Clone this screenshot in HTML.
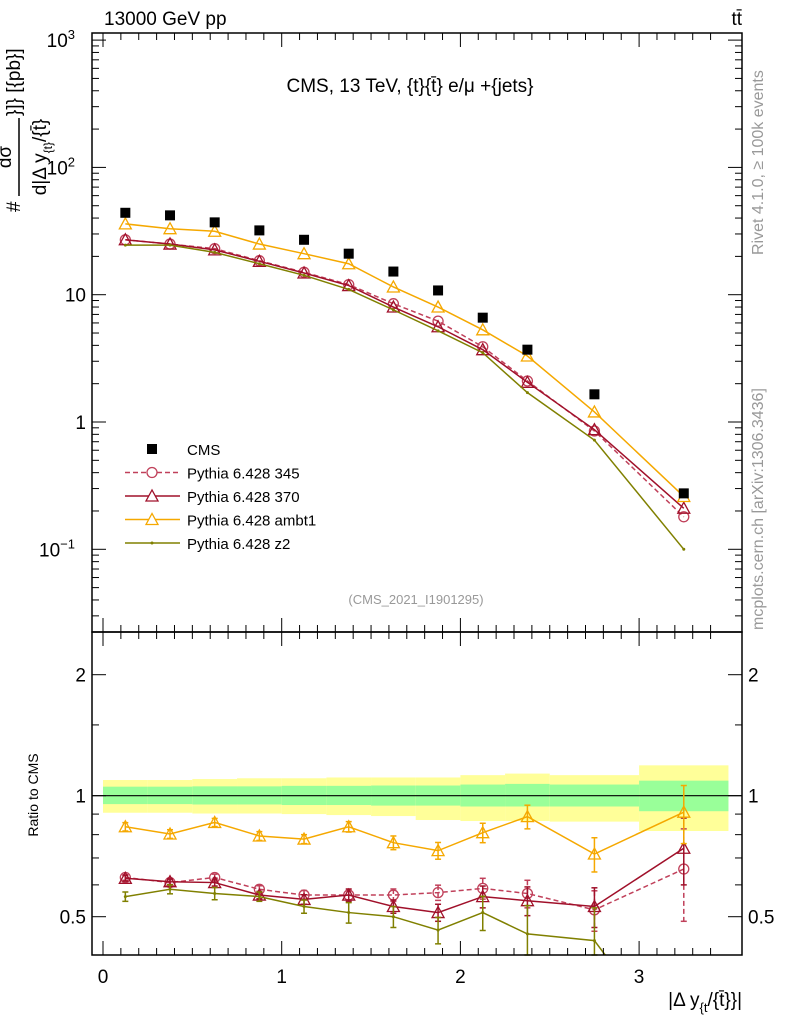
<!DOCTYPE html>
<html><head><meta charset="utf-8"><style>
html,body{margin:0;background:#fff;width:786px;height:1024px;overflow:hidden;}
svg{display:block;font-family:"Liberation Sans",sans-serif;}
</style></head><body>
<svg id="c" width="786" height="1024" xmlns="http://www.w3.org/2000/svg"></svg>
<script>
const xCenters=[0.125,0.375,0.625,0.875,1.125,1.375,1.625,1.875,2.125,2.375,2.75,3.25];
const binEdges=[0,0.25,0.5,0.75,1,1.25,1.5,1.75,2,2.25,2.5,3,3.5];
const cms=[44,42,37,32,27,21,15.2,10.8,6.6,3.7,1.65,0.275];
const p345=[27,25,23,18.5,15,12,8.5,6.2,3.9,2.1,0.85,0.18];
const p370=[27,25,22.5,18.3,14.8,11.8,8,5.6,3.7,2.05,0.87,0.21];
const pambt1=[36,33,31.5,25,21,17.5,11.5,8,5.3,3.3,1.2,0.26];
const pz2=[24.5,24.5,21.5,17.5,14.2,11,7.6,5.2,3.5,1.7,0.72,0.1];
const r345=[0.626,0.608,0.626,0.585,0.566,0.566,0.566,0.574,0.588,0.571,0.52,0.657];
const r370=[0.623,0.611,0.608,0.566,0.552,0.566,0.53,0.512,0.561,0.548,0.53,0.74];
const rambt1=[0.837,0.803,0.858,0.794,0.78,0.837,0.764,0.73,0.809,0.887,0.716,0.91];
const rz2=[0.561,0.585,0.571,0.561,0.53,0.512,0.5,0.463,0.512,0.453,0.436,0.22];
const errAmbt1=[0.02,0.02,0.02,0.02,0.02,0.025,0.03,0.035,0.045,0.06,0.07,0.15];
const err345=[0.01,0.01,0.012,0.012,0.015,0.015,0.02,0.025,0.035,0.045,0.06,0.17];
const err370=[0.01,0.01,0.012,0.012,0.015,0.02,0.02,0.025,0.035,0.045,0.06,0.14];
const errZ2=[0.015,0.015,0.02,0.015,0.02,0.03,0.03,0.035,0.05,0.08,0.09,0.1];
const yelUp=[1.094,1.094,1.10,1.105,1.105,1.11,1.11,1.11,1.125,1.135,1.125,1.19];
const yelDn=[0.907,0.907,0.903,0.903,0.90,0.895,0.89,0.87,0.865,0.865,0.862,0.817];
const grnUp=[1.053,1.053,1.055,1.055,1.058,1.058,1.06,1.06,1.066,1.07,1.066,1.09];
const grnDn=[0.953,0.953,0.951,0.951,0.948,0.948,0.945,0.945,0.94,0.94,0.94,0.915];

const S=document.getElementById('c');const NS='http://www.w3.org/2000/svg';
function el(t,a,p){const e=document.createElementNS(NS,t);for(const k in a)e.setAttribute(k,a[k]);(p||S).appendChild(e);return e;}
const L=92,R=742,T=33,MB=632,RB=955;
const X=v=>103+v*178.7;
const Y=v=>422-Math.log10(v)*127.3;
const YR=v=>795.7-Math.log2(v)*121;
const cp=el('clipPath',{id:'cm'});el('rect',{x:L,y:T,width:R-L,height:MB-T},cp);
const cr=el('clipPath',{id:'cr'});el('rect',{x:L,y:MB,width:R-L,height:RB-MB},cr);

const gb=el('g',{'clip-path':'url(#cr)'});

for(let i=0;i<xCenters.length;i++){
 const x0=X(binEdges[i]),x1=X(binEdges[i+1]);
 const y=el('rect',{x:x0,y:YR(yelUp[i]),width:x1-x0,height:YR(yelDn[i])-YR(yelUp[i]),fill:'#ffff99'},gb);
 
 const g=el('rect',{x:x0,y:YR(grnUp[i]),width:x1-x0,height:YR(grnDn[i])-YR(grnUp[i]),fill:'#99ff99'},gb);
 
}
el('line',{x1:L,x2:R,y1:YR(1),y2:YR(1),stroke:'#000','stroke-width':1.2});

function series(vals,fy,y0,y1b,color,dash,marker,name,errs){
 const g=el('g',{});
 
 const P=xCenters.map((x,i)=>[X(x),fy(vals[i])]);
 // clip polyline to [y0,y1b]
 const out=[];
 for(let i=0;i<P.length;i++){
  const [x,y]=P[i];const inside=y>=y0&&y<=y1b;
  if(i>0){const [px,py]=P[i-1];const pin=py>=y0&&py<=y1b;
   if(pin!==inside){const by=inside?(py<y0?y0:y1b):(y<y0?y0:y1b);const t=(by-py)/(y-py);out.push([px+t*(x-px),by]);}}
  if(inside)out.push([x,y]);
 }
 const pl=el('polyline',{points:out.map(p=>p.join(',')).join(' '),fill:'none',stroke:color,'stroke-width':1.5,'stroke-dasharray':dash||'none'},g);
 
 const cl=v=>Math.min(y1b,Math.max(y0,v));
 P.forEach(([cx,cy],i)=>{
  let m;
  if(cy<y0||cy>y1b)return;
  if(errs){const ya=cl(fy(vals[i]+errs[i])),yb=cl(fy(Math.max(vals[i]-errs[i],0.01)));
   el('line',{x1:cx,x2:cx,y1:ya,y2:yb,stroke:color,'stroke-width':1.5,'stroke-dasharray':dash||'none'},g);
   el('line',{x1:cx-3,x2:cx+3,y1:ya,y2:ya,stroke:color,'stroke-width':1.5},g);
   el('line',{x1:cx-3,x2:cx+3,y1:yb,y2:yb,stroke:color,'stroke-width':1.5},g);}
  if(marker==='sq')m=el('rect',{x:cx-5,y:cy-5,width:10,height:10,fill:'#000'},g);
  else if(marker==='circ')m=el('circle',{cx,cy,r:5,fill:'none',stroke:color,'stroke-width':1.3},g);
  else if(marker==='tri')m=el('polygon',{points:`${cx},${cy-6} ${cx-6},${cy+5} ${cx+6},${cy+5}`,fill:'none',stroke:color,'stroke-width':1.3},g);
  else m=el('circle',{cx,cy,r:1.5,fill:color},g);
  
 });
}
const C345='#c0405a',C370='#a0102a',CA='#f5a800',CZ='#808000';
series(p345,Y,T,MB,C345,'5,3','circ','pythia-345');
series(p370,Y,T,MB,C370,null,'tri','pythia-370');
series(pambt1,Y,T,MB,CA,null,'tri','pythia-ambt1');
series(pz2,Y,T,MB,CZ,null,'dot','pythia-z2');
series(cms,Y,T,MB,'#000','0,1000','sq','cms-data');
series(r345,YR,MB,RB,C345,'5,3','circ','ratio-345',err345);
series(r370,YR,MB,RB,C370,null,'tri','ratio-370',err370);
series(rambt1,YR,MB,RB,CA,null,'tri','ratio-ambt1',errAmbt1);
series(rz2,YR,MB,RB,CZ,null,'dot','ratio-z2',errZ2);

el('rect',{x:L,y:T,width:R-L,height:MB-T,fill:'none',stroke:'#000','stroke-width':1.5});
el('rect',{x:L,y:MB,width:R-L,height:RB-MB,fill:'none',stroke:'#000','stroke-width':1.5});
function txt(x,y,s,a,name){const t=el('text',Object.assign({x,y},a||{}));t.textContent=s;return t;}
for(let d=-2;d<=3;d++){for(let k=1;k<10;k++){const v=k*Math.pow(10,d);const y=Y(v);if(y<T||y>MB)continue;const len=k===1?14:7;
 el('line',{x1:L,x2:L+len,y1:y,y2:y,stroke:'#000'});el('line',{x1:R,x2:R-len,y1:y,y2:y,stroke:'#000'});}}
const ylab=[[1000,'10','3'],[100,'10','2'],[10,'10',''],[1,'1',''],[0.1,'10','−1']];
ylab.forEach(([v,b,e])=>{const t=txt(e?75:86,Y(v)+7,b,{'font-size':19,'text-anchor':'end'},'y-tick-label');
 if(e){const s=el('tspan',{dy:-8,'font-size':13},t);s.textContent=e;}});
for(let v=0;v<=3.5;v+=0.1){const x=X(v);if(x>R)break;const maj=Math.abs(v-Math.round(v))<1e-6;const len=maj?14:7;
 el('line',{x1:x,x2:x,y1:RB,y2:RB-len,stroke:'#000'});el('line',{x1:x,x2:x,y1:MB,y2:MB-len,stroke:'#000'});el('line',{x1:x,x2:x,y1:MB,y2:MB+len,stroke:'#000'});el('line',{x1:x,x2:x,y1:T,y2:T+len,stroke:'#000'});}
[0,1,2,3].forEach(v=>txt(X(v),983,String(v),{'font-size':19,'text-anchor':'middle'},'x-tick-label'));
[0.5,0.6,0.7,0.8,0.9,1,1.5,2].forEach(v=>{const y=YR(v);const len=(v===0.5||v===1||v===2)?14:7;
 el('line',{x1:L,x2:L+len,y1:y,y2:y,stroke:'#000'});el('line',{x1:R,x2:R-len,y1:y,y2:y,stroke:'#000'});});
[[2,'2'],[1,'1'],[0.5,'0.5']].forEach(([v,s])=>{txt(86,YR(v)+7,s,{'font-size':19,'text-anchor':'end'},'ratio-tick-label');txt(748,YR(v)+7,s,{'font-size':19},'ratio-tick-label-right');});
txt(104,25,'13000 GeV pp',{'font-size':19},'energy-label');
txt(742,25,'tt̄',{'font-size':19,'text-anchor':'end'},'process-label');
txt(410,92,'CMS, 13 TeV, {t}{t̄} e/μ +{jets}',{'font-size':19,'text-anchor':'middle'},'plot-title');
txt(416,604,'(CMS_2021_I1901295)',{'font-size':13,fill:'#999','text-anchor':'middle'},'analysis-id');
txt(742,1006,'',{'font-size':19,'text-anchor':'end'},'x-axis-title').innerHTML='|Δ y<tspan dy="6" font-size="13">{t</tspan><tspan dy="-6">/{t̄}}|</tspan>';
txt(0,0,'Ratio to CMS',{'font-size':14,transform:'translate(38,795) rotate(-90)','text-anchor':'middle'},'ratio-y-axis-title');
const yt=el('g',{});
txt(0,0,'#',{'font-size':19,transform:'translate(20,212) rotate(-90)'},'y-title-hash');
el('line',{x1:19,x2:19,y1:118,y2:196,stroke:'#000','stroke-width':1.5},yt);
txt(0,0,'dσ',{'font-size':19,transform:'translate(11,157) rotate(-90)','text-anchor':'middle'},'y-title-numerator');
txt(0,0,'',{'font-size':19,transform:'translate(46,157) rotate(-90)','text-anchor':'middle'},'y-title-denominator').innerHTML='d|Δ y<tspan dy="6" font-size="12">{t}</tspan><tspan dy="-6">/{t̄}</tspan>';
txt(0,0,'}]} [{pb}]',{'font-size':19,transform:'translate(20,116) rotate(-90)'},'y-title-units');
txt(0,0,'Rivet 4.1.0, ≥ 100k events',{'font-size':16,fill:'#999',transform:'translate(763,255) rotate(-90)'},'rivet-label');
txt(0,0,'mcplots.cern.ch [arXiv:1306.3436]',{'font-size':16,fill:'#999',transform:'translate(763,630) rotate(-90)'},'mcplots-label');
const leg=[['CMS','#000',null,'sq'],['Pythia 6.428 345',C345,'5,3','circ'],['Pythia 6.428 370',C370,null,'tri'],['Pythia 6.428 ambt1',CA,null,'tri'],['Pythia 6.428 z2',CZ,null,'dot']];
leg.forEach(([s,c,d,m],i)=>{const y=449+i*23.5;const g=el('g',{});
 
 if(m!=='sq')el('line',{x1:125,x2:180,y1:y,y2:y,stroke:c,'stroke-width':1.5,'stroke-dasharray':d||'none'},g);
 const cx=152;
 if(m==='sq')el('rect',{x:cx-5,y:y-5,width:10,height:10,fill:'#000'},g);
 else if(m==='circ')el('circle',{cx,cy:y,r:5,fill:'#fff',stroke:c,'stroke-width':1.3},g);
 else if(m==='tri')el('polygon',{points:`${cx},${y-6} ${cx-6},${y+5} ${cx+6},${y+5}`,fill:'#fff',stroke:c,'stroke-width':1.3},g);
 else el('circle',{cx,cy:y,r:1.5,fill:c},g);
 const t=el('text',{x:187,y:y+6,'font-size':15},g);t.textContent=s;});
</script>
</body></html>
